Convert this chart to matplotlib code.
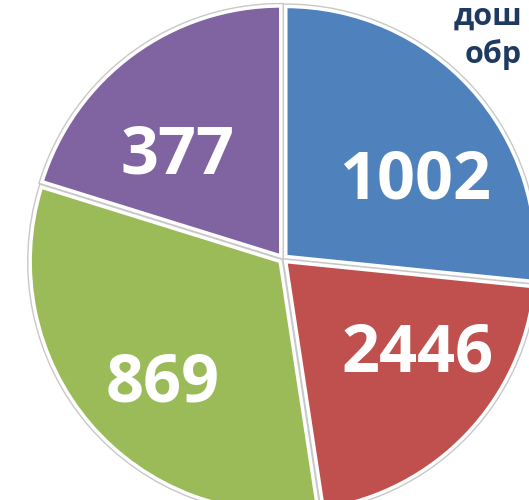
import matplotlib.pyplot as plt

# slice shares as drawn in the reference (the printed labels are separate counts)
shares = [26.6, 21.0, 32.2, 20.2]
counts = ["1002", "2446", "869", "377"]
colors = ["#4F81BD", "#C0504D", "#9BBB59", "#8064A2"]
# only the visible part of the (cropped) heading
title_lines = ["дош", "обр"]

# label offsets from the pie centre, in pie radii
label_pos = [(0.53, 0.31), (0.54, -0.38), (-0.48, -0.50), (-0.42, 0.41)]

fig = plt.figure(figsize=(5.29, 5.0), dpi=100)
# axes placed so the pie centre sits at px (283, 259) with radius ~250 px
R = 250
cx, cy = 283, 259
half = 1.1 * R
ax = fig.add_axes([(cx - half) / 529, (500 - cy - half) / 500,
                   2 * half / 529, 2 * half / 500])

explode = [0.015] * len(shares)
ax.pie(shares, colors=colors, startangle=90, counterclock=False,
       explode=explode,
       wedgeprops=dict(edgecolor="#C8C8C8", linewidth=4.5))
ax.pie(shares, colors=colors, startangle=90, counterclock=False,
       explode=explode,
       wedgeprops=dict(edgecolor="white", linewidth=2.5))

for (x, y), txt in zip(label_pos, counts):
    ax.text(x, y, txt, ha="center", va="center", color="white",
            fontsize=48, fontweight="bold", family="Open Sans")

ax.set_xlim(-1.1, 1.1)
ax.set_ylim(-1.1, 1.1)
ax.set_aspect("equal")
ax.axis("off")

fig.text(522 / 529, 1 - 25 / 500, title_lines[0], ha="right", va="baseline",
         color="#1F3A60", fontsize=22, fontweight="bold", family="Open Sans")
fig.text(522 / 529, 1 - 63 / 500, title_lines[1], ha="right", va="baseline",
         color="#1F3A60", fontsize=22, fontweight="bold", family="Open Sans")

fig.savefig("out.png", dpi=100)
